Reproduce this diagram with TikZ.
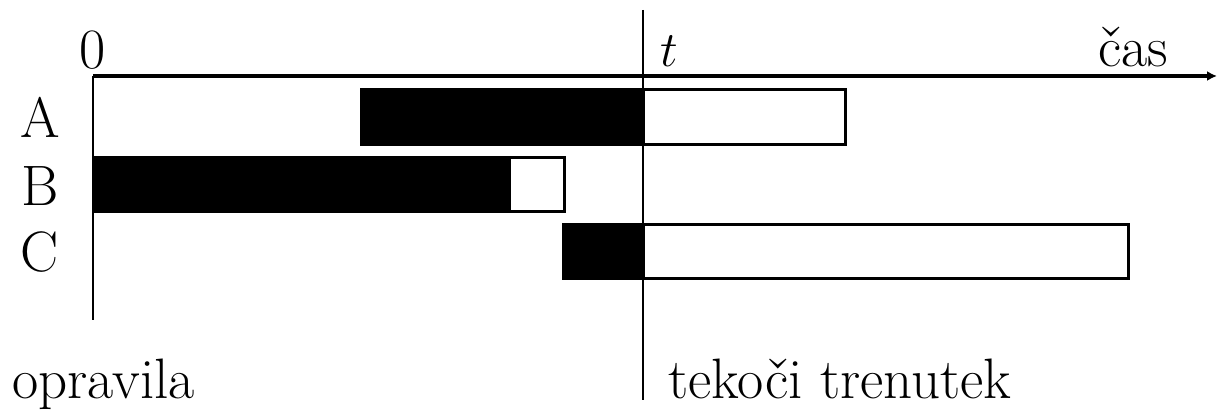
\documentclass[tikz,border=0pt]{standalone}
\usetikzlibrary{arrows.meta}
\begin{document}
\begin{tikzpicture}[x=0.5pt,y=-0.5pt,
  lbl/.style={inner sep=0pt,anchor=base,font=\fontsize{28.5}{32}\selectfont},
  done/.style={draw=black,fill=black,line width=1.5pt},
  todo/.style={draw=black,fill=white,line width=1.5pt}]
\useasboundingbox (0,0) rectangle (1218,410);
% bars: executed part (black) and remaining part (white)
\path[done] (361,90) rectangle (643,145);
\path[todo] (643,90) rectangle (845,145);
\path[done] (93,158) rectangle (509,212);
\path[todo] (509,158) rectangle (564,212);
\path[done] (563,225) rectangle (643,279);
\path[todo] (643,225) rectangle (1128,279);
% axes
\coordinate (o) at (93,76);
\coordinate (xend) at (1217,76);
\coordinate (ybot) at (93,320);
\coordinate (ttop) at (643,10);
\coordinate (tbot) at (643,400);
\draw[line width=2pt,-{Latex[length=5pt,width=5pt]}] (o) -- (xend);
\draw[line width=1.2pt] (o) -- (ybot);
\draw[line width=0.8pt] (ttop) -- (tbot);
% labels
\node[lbl] (zero) at (93,69) {0};
\node[lbl] (tl) at (669,67) {$t$};
\node[lbl] (cas) at (1133,67) {čas};
\node[lbl] (la) at (40,138) {A};
\node[lbl] (lb) at (40,206) {B};
\node[lbl] (lc) at (40,272) {C};
\node[lbl,anchor=base west] (opr) at (12,398) {opravila};
\node[lbl,anchor=base west] (tek) at (668,398) {tekoči trenutek};
\end{tikzpicture}
\end{document}
